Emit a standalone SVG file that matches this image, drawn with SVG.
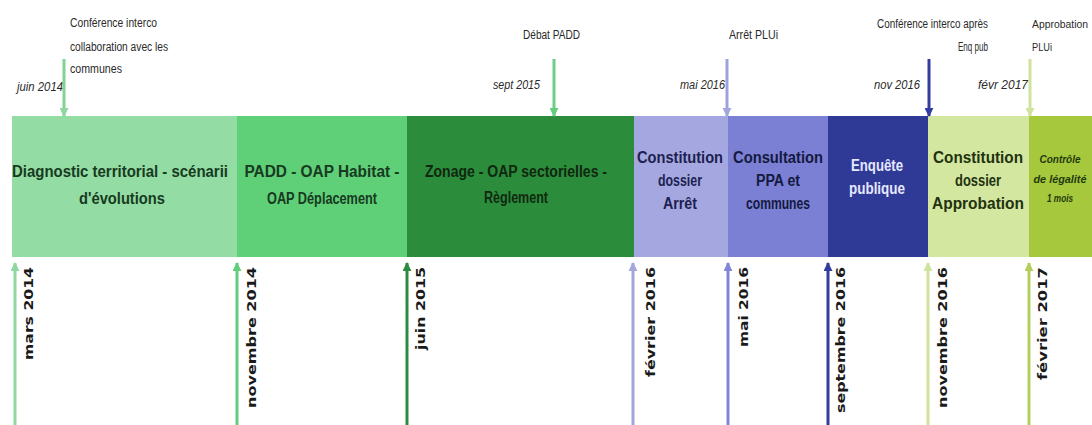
<svg xmlns="http://www.w3.org/2000/svg" width="1092" height="425" viewBox="0 0 1092 425">
  <style>
    .phase { font-family: "Liberation Sans", Arial, sans-serif; font-weight: bold; font-size: 16px; text-anchor: middle; }
    .small { font-size: 11px; font-style: italic; }
    .note { font-family: "Liberation Sans", Arial, sans-serif; font-size: 12px; fill: #2a2a2a; }
    .note.tight { font-size: 10.5px; }
    .date { font-family: "Liberation Sans", Arial, sans-serif; font-style: italic; font-size: 12px; fill: #2a2a2a; }
    .month { font-family: "DejaVu Sans", Verdana, sans-serif; font-weight: bold; font-size: 12px; fill: #1a1a1a; text-anchor: end; }
    .arrow { stroke-width: 3; fill: none; }
  </style>
  <defs>
    <marker id="m-mint" viewBox="0 0 10 10" refX="9" refY="5" markerUnits="userSpaceOnUse" markerWidth="9" markerHeight="9" orient="auto"><path d="M0,0 L10,5 L0,10 z" fill="#8fd6a2"/></marker>
    <marker id="m-green" viewBox="0 0 10 10" refX="9" refY="5" markerUnits="userSpaceOnUse" markerWidth="9" markerHeight="9" orient="auto"><path d="M0,0 L10,5 L0,10 z" fill="#62cd7c"/></marker>
    <marker id="m-dkgreen" viewBox="0 0 10 10" refX="9" refY="5" markerUnits="userSpaceOnUse" markerWidth="9" markerHeight="9" orient="auto"><path d="M0,0 L10,5 L0,10 z" fill="#2e8a3e"/></marker>
    <marker id="m-lav" viewBox="0 0 10 10" refX="9" refY="5" markerUnits="userSpaceOnUse" markerWidth="9" markerHeight="9" orient="auto"><path d="M0,0 L10,5 L0,10 z" fill="#a3a6dd"/></marker>
    <marker id="m-peri" viewBox="0 0 10 10" refX="9" refY="5" markerUnits="userSpaceOnUse" markerWidth="9" markerHeight="9" orient="auto"><path d="M0,0 L10,5 L0,10 z" fill="#8286d6"/></marker>
    <marker id="m-navy" viewBox="0 0 10 10" refX="9" refY="5" markerUnits="userSpaceOnUse" markerWidth="9" markerHeight="9" orient="auto"><path d="M0,0 L10,5 L0,10 z" fill="#333d9e"/></marker>
    <marker id="m-limelt" viewBox="0 0 10 10" refX="9" refY="5" markerUnits="userSpaceOnUse" markerWidth="9" markerHeight="9" orient="auto"><path d="M0,0 L10,5 L0,10 z" fill="#d0e39c"/></marker>
    <marker id="m-lime" viewBox="0 0 10 10" refX="9" refY="5" markerUnits="userSpaceOnUse" markerWidth="9" markerHeight="9" orient="auto"><path d="M0,0 L10,5 L0,10 z" fill="#b2cf5c"/></marker>
  </defs>

  <rect width="1092" height="425" fill="#ffffff"/>

  <!-- timeline phases -->
  <g id="phase-diagnostic">
    <rect x="12" y="116" width="225" height="141" fill="#93dca3"/>
    <text class="phase" fill="#173a20"><tspan x="120" y="177" textLength="216" lengthAdjust="spacingAndGlyphs">Diagnostic territorial - scénarii</tspan><tspan x="122" y="204" textLength="86" lengthAdjust="spacingAndGlyphs">d'évolutions</tspan></text>
  </g>
  <g id="phase-padd">
    <rect x="237" y="116" width="170" height="141" fill="#5fcf78"/>
    <text class="phase" fill="#173a20"><tspan x="322" y="177" textLength="155" lengthAdjust="spacingAndGlyphs">PADD - OAP Habitat -</tspan><tspan x="322" y="204" textLength="110" lengthAdjust="spacingAndGlyphs">OAP Déplacement</tspan></text>
  </g>
  <g id="phase-zonage">
    <rect x="407" y="116" width="227" height="141" fill="#2b8c3c"/>
    <text class="phase" fill="#10280f"><tspan x="516" y="177" textLength="182" lengthAdjust="spacingAndGlyphs">Zonage - OAP sectorielles -</tspan><tspan x="516" y="203" textLength="64" lengthAdjust="spacingAndGlyphs">Règlement</tspan></text>
  </g>
  <g id="phase-arret">
    <rect x="634" y="116" width="94" height="141" fill="#a5a8e0"/>
    <text class="phase" fill="#1c2150"><tspan x="680" y="163" textLength="86" lengthAdjust="spacingAndGlyphs">Constitution</tspan><tspan x="680" y="186" textLength="44" lengthAdjust="spacingAndGlyphs">dossier</tspan><tspan x="680" y="209" textLength="34" lengthAdjust="spacingAndGlyphs">Arrêt</tspan></text>
  </g>
  <g id="phase-consultation">
    <rect x="728" y="116" width="100" height="141" fill="#7b80d4"/>
    <text class="phase" fill="#141940"><tspan x="778" y="163" textLength="90" lengthAdjust="spacingAndGlyphs">Consultation</tspan><tspan x="778" y="186" textLength="44" lengthAdjust="spacingAndGlyphs">PPA et</tspan><tspan x="778" y="209" textLength="64" lengthAdjust="spacingAndGlyphs">communes</tspan></text>
  </g>
  <g id="phase-enquete">
    <rect x="828" y="116" width="100" height="141" fill="#2f3a97"/>
    <text class="phase" fill="#e6e8ff"><tspan x="877" y="171" textLength="52" lengthAdjust="spacingAndGlyphs">Enquête</tspan><tspan x="877" y="194" textLength="56" lengthAdjust="spacingAndGlyphs">publique</tspan></text>
  </g>
  <g id="phase-approbation">
    <rect x="928" y="116" width="101" height="141" fill="#d4e7a1"/>
    <text class="phase" fill="#22320e"><tspan x="978" y="163" textLength="90" lengthAdjust="spacingAndGlyphs">Constitution</tspan><tspan x="978" y="186" textLength="46" lengthAdjust="spacingAndGlyphs">dossier</tspan><tspan x="978" y="209" textLength="92" lengthAdjust="spacingAndGlyphs">Approbation</tspan></text>
  </g>
  <g id="phase-controle">
    <rect x="1029" y="116" width="63" height="141" fill="#a6c83c"/>
    <text class="phase small" fill="#1f3a0c"><tspan x="1060" y="163" textLength="41" lengthAdjust="spacingAndGlyphs">Contrôle</tspan><tspan x="1060" y="183" textLength="53" lengthAdjust="spacingAndGlyphs">de légalité</tspan><tspan x="1060" y="202" textLength="26" lengthAdjust="spacingAndGlyphs">1 mois</tspan></text>
  </g>

  <!-- milestone notes above the timeline -->
  <g id="milestone-conference">
    <text class="note"><tspan x="70" y="27" textLength="87" lengthAdjust="spacingAndGlyphs">Conférence interco</tspan><tspan x="70" y="51" textLength="98" lengthAdjust="spacingAndGlyphs">collaboration avec les</tspan><tspan x="70" y="73" textLength="52" lengthAdjust="spacingAndGlyphs">communes</tspan></text>
    <text class="date" x="17" y="91" textLength="46" lengthAdjust="spacingAndGlyphs">juin 2014</text>
  </g>
  <g id="milestone-debat">
    <text class="note" x="523" y="39" textLength="57" lengthAdjust="spacingAndGlyphs">Débat PADD</text>
    <text class="date" x="493" y="89" textLength="47" lengthAdjust="spacingAndGlyphs">sept 2015</text>
  </g>
  <g id="milestone-arret">
    <text class="note" x="729" y="39" textLength="49" lengthAdjust="spacingAndGlyphs">Arrêt PLUi</text>
    <text class="date" x="680" y="89" textLength="45" lengthAdjust="spacingAndGlyphs">mai 2016</text>
  </g>
  <g id="milestone-conference-enq">
    <text class="note"><tspan x="877" y="28" textLength="111" lengthAdjust="spacingAndGlyphs">Conférence interco après</tspan><tspan x="958" y="51" textLength="30" lengthAdjust="spacingAndGlyphs">Enq pub</tspan></text>
    <text class="date" x="874" y="89" textLength="46" lengthAdjust="spacingAndGlyphs">nov 2016</text>
  </g>
  <g id="milestone-approbation">
    <text class="note tight"><tspan x="1032" y="28" textLength="56" lengthAdjust="spacingAndGlyphs">Approbation</tspan><tspan x="1032" y="51" textLength="20" lengthAdjust="spacingAndGlyphs">PLUi</tspan></text>
    <text class="date" x="978" y="89" textLength="50" lengthAdjust="spacingAndGlyphs">févr 2017</text>
  </g>

  <!-- phase start dates below the timeline -->
  <g id="start-dates">
    <text class="month" transform="translate(33,267) rotate(-90)" textLength="93" lengthAdjust="spacingAndGlyphs">mars 2014</text>
    <text class="month" transform="translate(256,267) rotate(-90)" textLength="141" lengthAdjust="spacingAndGlyphs">novembre 2014</text>
    <text class="month" transform="translate(425,267) rotate(-90)" textLength="83" lengthAdjust="spacingAndGlyphs">juin 2015</text>
    <text class="month" transform="translate(655,267) rotate(-90)" textLength="110" lengthAdjust="spacingAndGlyphs">février 2016</text>
    <text class="month" transform="translate(748,267) rotate(-90)" textLength="80" lengthAdjust="spacingAndGlyphs">mai 2016</text>
    <text class="month" transform="translate(845,267) rotate(-90)" textLength="146" lengthAdjust="spacingAndGlyphs">septembre 2016</text>
    <text class="month" transform="translate(947,267) rotate(-90)" textLength="141" lengthAdjust="spacingAndGlyphs">novembre 2016</text>
    <text class="month" transform="translate(1047,267) rotate(-90)" textLength="113" lengthAdjust="spacingAndGlyphs">février 2017</text>
  </g>

  <!-- connectors -->
  <g id="connectors">
    <line class="arrow" x1="64" y1="59" x2="64" y2="116" stroke="#7fd395" marker-end="url(#m-mint)"/>
    <line class="arrow" x1="554" y1="59" x2="554" y2="116" stroke="#6dcf86" marker-end="url(#m-green)"/>
    <line class="arrow" x1="727" y1="59" x2="727" y2="116" stroke="#9ea2dc" marker-end="url(#m-lav)"/>
    <line class="arrow" x1="929" y1="59" x2="929" y2="116" stroke="#333d9e" marker-end="url(#m-navy)"/>
    <line class="arrow" x1="1030" y1="59" x2="1030" y2="116" stroke="#d0e39c" marker-end="url(#m-limelt)"/>

    <line class="arrow" x1="15" y1="425" x2="15" y2="263" stroke="#8fd6a2" marker-end="url(#m-mint)"/>
    <line class="arrow" x1="237" y1="425" x2="237" y2="263" stroke="#62cd7c" marker-end="url(#m-green)"/>
    <line class="arrow" x1="407" y1="425" x2="407" y2="263" stroke="#2e8a3e" marker-end="url(#m-dkgreen)"/>
    <line class="arrow" x1="633" y1="425" x2="633" y2="263" stroke="#a3a6dd" marker-end="url(#m-lav)"/>
    <line class="arrow" x1="728" y1="425" x2="728" y2="263" stroke="#8286d6" marker-end="url(#m-peri)"/>
    <line class="arrow" x1="828" y1="425" x2="828" y2="263" stroke="#333d9e" marker-end="url(#m-navy)"/>
    <line class="arrow" x1="928" y1="425" x2="928" y2="263" stroke="#d0e39c" marker-end="url(#m-limelt)"/>
    <line class="arrow" x1="1029" y1="425" x2="1029" y2="263" stroke="#b2cf5c" marker-end="url(#m-lime)"/>
  </g>
</svg>
